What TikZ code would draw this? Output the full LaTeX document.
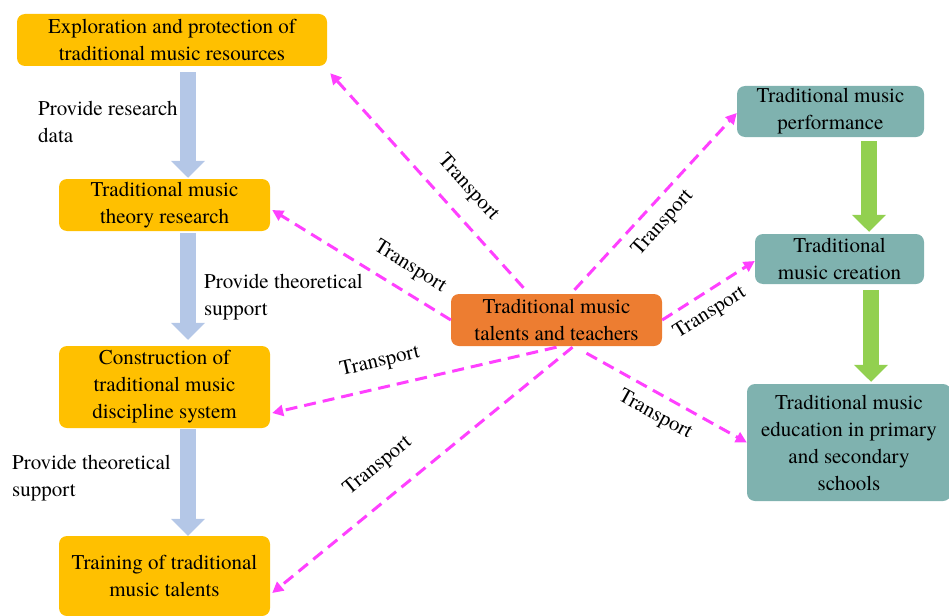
\documentclass[tikz,border=0pt]{standalone}
\usepackage{fontspec}
\setmainfont{TeX Gyre Termes}
\usetikzlibrary{arrows.meta,calc}
\definecolor{gold}{HTML}{FFC000}
\definecolor{orng}{HTML}{ED7D31}
\definecolor{tealbox}{HTML}{7FB2AF}
\definecolor{lblue}{HTML}{B4C7E7}
\definecolor{lgreen}{HTML}{92D050}
\definecolor{mag}{HTML}{FF40FF}
\begin{document}
\begin{tikzpicture}[x=1pt,y=-1pt,
  box/.style={rounded corners=8pt, inner sep=0pt, align=center, font=\fontsize{21}{27}\selectfont},
  goldbox/.style={box, fill=gold},
  tealnode/.style={box, fill=tealbox},
  lbl/.style={inner sep=0pt, align=left, anchor=north west, font=\fontsize{21}{27}\selectfont},
  trlbl/.style={inner sep=0pt, font=\fontsize{21}{27}\selectfont},
  barrow/.style={draw=lblue, line width=16pt, -{Triangle[length=17pt,width=33pt]}},
  garrow/.style={draw=lgreen, line width=16pt, -{Triangle[length=17pt,width=33pt]}},
  tr/.style={draw=mag, line width=3pt, dash pattern=on 12pt off 7pt, -{Triangle[length=11pt,width=11pt]}}
]
\useasboundingbox (0,0) rectangle (949,615);

% left column
\node[goldbox, minimum width=310pt, minimum height=52pt] (e1) at (172,40) {Exploration and protection of\\traditional music resources};
\node[goldbox, minimum width=211pt, minimum height=52pt] (e2) at (164.5,205) {Traditional music\\theory research};
\node[goldbox, minimum width=211pt, minimum height=82pt] (e3) at (164.5,387) {Construction of\\traditional music\\discipline system};
\node[goldbox, minimum width=211pt, minimum height=80pt] (e4) at (164.5,576) {Training of traditional\\music talents};

% centre
\node[box, fill=orng, minimum width=211pt, minimum height=52pt] (c) at (556.5,320) {Traditional music\\talents and teachers};

% right column
\node[tealnode, minimum width=187pt, minimum height=51pt] (r1) at (830.5,111.5) {Traditional music\\performance};
\node[tealnode, minimum width=169pt, minimum height=50pt] (r2) at (839.5,259) {Traditional\\music creation};
\node[tealnode, minimum width=204pt, minimum height=117pt] (r3) at (849,442.5) {Traditional music\\education in primary\\and secondary\\schools};

% blue arrows
\coordinate (bx) at (188,0);
\draw[barrow] ($(e1.south -| bx)+(0,6)$) -- ($(e2.north -| bx)+(0,-1)$);
\draw[barrow] ($(e2.south -| bx)+(0,2)$) -- ($(e3.north -| bx)+(0,-6)$);
\draw[barrow] ($(e3.south -| bx)+(0,1)$) -- (e4.north -| bx);

% green arrows
\coordinate (gx1) at (869,0);
\coordinate (gx2) at (871,0);
\draw[garrow] ($(r1.south -| gx1)+(0,4)$) -- ($(r2.north -| gx1)+(0,-2)$);
\draw[garrow] ($(r2.south -| gx2)+(0,6)$) -- ($(r3.north -| gx2)+(0,-2)$);

% transport arrows
\draw[tr] ($(c.north)+(-33,-6)$) -- ($(e1.south east)+(3,7)$);
\draw[tr] (c.west) -- ($(e2.east)+(2,5)$);
\draw[tr] ($(c.south)+(0,1)$) -- ($(e3.east)+(2,26)$);
\draw[tr] ($(c.south)+(16,1)$) -- ($(e4.east)+(2,17)$);
\draw[tr] ($(c.north)+(18,-4)$) -- ($(r1.west)+(0,1.5)$);
\draw[tr] (c.east) -- ($(r2.west)+(0,2)$);
\draw[tr] ($(c.south)+(30,7)$) -- (r3.west);

% transport labels
\node[trlbl, rotate=-48] (t1) at (468,188) {Transport};
\node[trlbl, rotate=-32] (t2) at (410,267) {Transport};
\node[trlbl, rotate=13] (t3) at (380,362) {Transport};
\node[trlbl, rotate=39] (t4) at (378,466) {Transport};
\node[trlbl, rotate=48] (t5) at (663,223) {Transport};
\node[trlbl, rotate=32] (t6) at (710,313) {Transport};
\node[trlbl, rotate=-29] (t7) at (655,415) {Transport};

% side labels
\node[lbl] (p1) at (38,101) {Provide research\\data};
\node[lbl] (p2) at (204,274) {Provide theoretical\\support};
\node[lbl] (p3) at (12,455) {Provide theoretical\\support};
\end{tikzpicture}
\end{document}
